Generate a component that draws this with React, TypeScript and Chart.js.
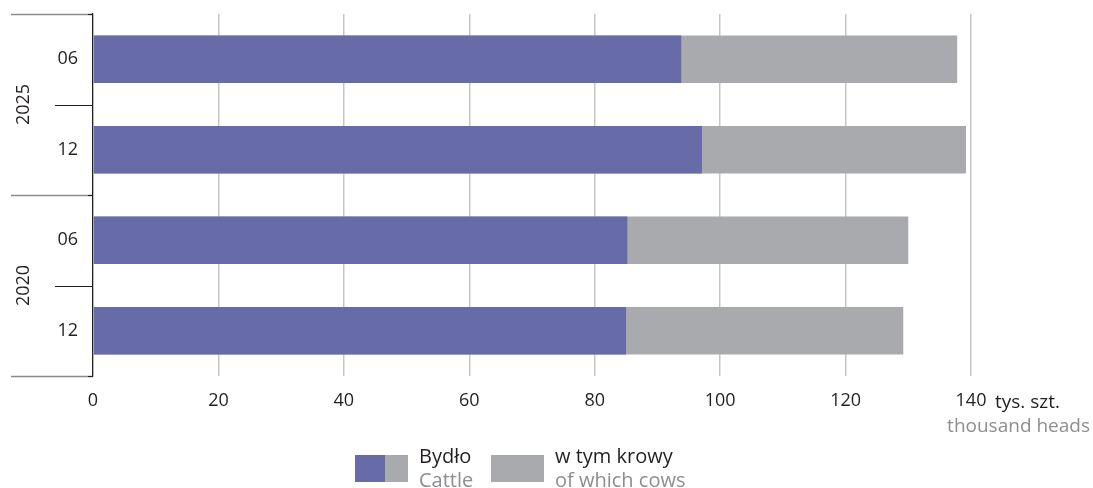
import React, { useEffect, useRef } from "react";
import { Chart, registerables } from "chart.js";

Chart.register(...registerables);

// Half-year points, grouped by year (top group first)
const months = ["06", "12", "06", "12"];
const years = ["2025", "2020"];
// Cattle in thousand heads: full bar length
const cattle = [137.8, 139.2, 130.0, 129.2];
// End of the purple segment
const cattleExclCows = [93.8, 97.1, 85.2, 85.0];
const xMax = 140;
const xStep = 20;

const PURPLE = "#676ca8";
const GREY = "#a9aaad";
const TEXT = "#231f20";
const MUTED = "#8d8e91";
const FONT = "'Open Sans', 'Noto Sans', sans-serif";

const decorations = {
  id: "decorations",
  afterDraw(chart: any) {
    const { ctx, chartArea } = chart;
    const y = chart.scales.y;
    const left = chartArea.left;
    ctx.save();

    // year group separators
    [-0.5, 1.5, 3.5].forEach((v) => {
      const py = Math.round(y.getPixelForValue(v)) + 0.5;
      ctx.lineWidth = 1.3;
      ctx.strokeStyle = "#8a8a8a";
      ctx.beginPath();
      ctx.moveTo(11, py);
      ctx.lineTo(left - 5, py);
      ctx.stroke();
      ctx.strokeStyle = TEXT;
      ctx.beginPath();
      ctx.moveTo(left - 5, py);
      ctx.lineTo(left, py);
      ctx.stroke();
    });
    // half-year separators inside a group
    [0.5, 2.5].forEach((v) => {
      const py = Math.round(y.getPixelForValue(v)) + 0.5;
      ctx.lineWidth = 1.2;
      ctx.strokeStyle = TEXT;
      ctx.beginPath();
      ctx.moveTo(55, py);
      ctx.lineTo(left, py);
      ctx.stroke();
    });

    // rotated year labels
    ctx.fillStyle = TEXT;
    ctx.font = `18px ${FONT}`;
    ctx.textAlign = "center";
    ctx.textBaseline = "middle";
    years.forEach((yr, i) => {
      const cy = y.getPixelForValue(i * 2 + 0.5);
      ctx.save();
      ctx.translate(24, cy);
      ctx.rotate(-Math.PI / 2);
      ctx.fillText(yr, 0, 0);
      ctx.restore();
    });

    // unit next to the value axis
    ctx.textBaseline = "alphabetic";
    ctx.textAlign = "left";
    ctx.font = `19px ${FONT}`;
    ctx.fillStyle = TEXT;
    ctx.fillText("tys. szt.", chartArea.right + 24, 408);
    ctx.textAlign = "right";
    ctx.fillStyle = MUTED;
    ctx.fillText("thousand heads", 1090, 432);

    // legend
    ctx.fillStyle = PURPLE;
    ctx.fillRect(355, 455, 30, 27);
    ctx.fillStyle = GREY;
    ctx.fillRect(385, 455, 23, 27);
    ctx.fillRect(491, 455, 53, 27);
    ctx.textAlign = "left";
    ctx.font = `20px ${FONT}`;
    ctx.fillStyle = TEXT;
    ctx.fillText("Bydło", 419, 463);
    ctx.fillText("w tym krowy", 555, 463);
    ctx.fillStyle = MUTED;
    ctx.fillText("Cattle", 419, 487);
    ctx.fillText("of which cows", 555, 487);

    ctx.restore();
  },
};

export default function App() {
  const ref = useRef<HTMLCanvasElement | null>(null);

  useEffect(() => {
    if (!ref.current) return;
    const chart = new Chart(ref.current, {
      type: "bar",
      data: {
        labels: months,
        datasets: [
          {
            label: "Bydło (bez krów)",
            data: cattleExclCows,
            backgroundColor: PURPLE,
            grouped: false,
            order: 0,
            barPercentage: 0.527,
            categoryPercentage: 1,
          },
          {
            label: "Bydło",
            data: cattle,
            backgroundColor: GREY,
            grouped: false,
            order: 1,
            barPercentage: 0.527,
            categoryPercentage: 1,
          },
        ],
      },
      options: {
        indexAxis: "y",
        responsive: false,
        animation: false,
        devicePixelRatio: 1,
        layout: { padding: { left: 0, right: 122, top: 14, bottom: 0 } },
        plugins: { legend: { display: false }, tooltip: { enabled: false } },
        scales: {
          x: {
            min: 0,
            max: xMax,
            afterFit: (s: any) => {
              s.height = 112;
              s.paddingLeft = 0;
              s.paddingRight = 0;
            },
            ticks: {
              stepSize: xStep,
              color: TEXT,
              font: { family: FONT, size: 18 },
              padding: 14,
            },
            grid: { color: "#c6c6c6", lineWidth: 1.5, drawTicks: false },
            border: { display: false },
          },
          y: {
            afterFit: (s: any) => {
              s.width = 93;
              s.paddingTop = 0;
              s.paddingBottom = 0;
            },
            ticks: {
              color: TEXT,
              font: { family: FONT, size: 18 },
              padding: 15,
            },
            grid: { display: false, drawTicks: false },
            border: { display: true, color: TEXT, width: 1.2 },
          },
        },
      },
      plugins: [decorations],
    });
    return () => chart.destroy();
  }, []);

  return (
    <div style={{ position: "fixed", left: 0, top: 0, width: 1093, height: 488, background: "#fff" }}>
      <canvas ref={ref} width={1093} height={488} />
    </div>
  );
}
